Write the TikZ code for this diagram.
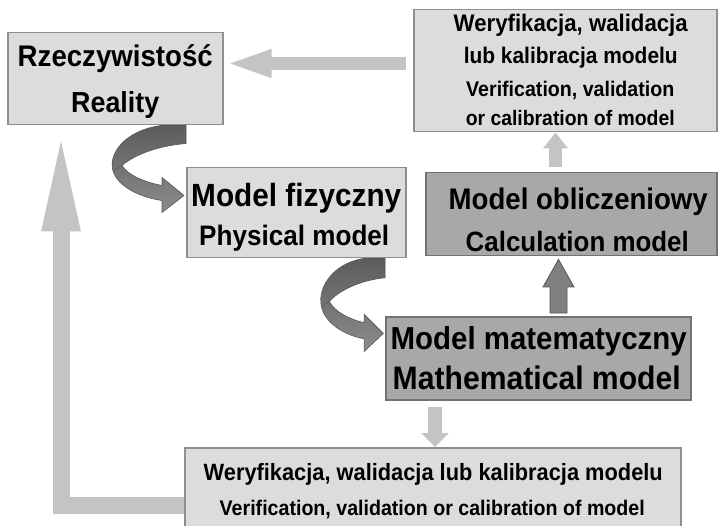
\documentclass[tikz,border=0pt]{standalone}
\usepackage{fontspec}
\usepackage{graphicx}
\setmainfont{Liberation Sans}
\usetikzlibrary{arrows.meta,calc}
\definecolor{boxlight}{HTML}{DCDCDC}
\definecolor{boxedge}{HTML}{8E8E8E}
\definecolor{boxdark}{HTML}{A8A8A8}
\definecolor{boxdarkedge}{HTML}{727272}
\definecolor{arrlight}{HTML}{C4C4C4}
\definecolor{arrdark}{HTML}{808080}
\definecolor{arrdarkedge}{HTML}{555555}
\definecolor{curvtop}{HTML}{5C5C5C}
\definecolor{curvbot}{HTML}{8C8C8C}
\newcommand{\fitw}[2]{\scalebox{1}[1.08]{\resizebox{#1pt}{!}{\bfseries #2}}}
\begin{document}
\begin{tikzpicture}[x=1pt,y=-1pt,
  boxsize/.style 2 args={minimum width=#1pt,minimum height=#2pt},
  lightbox/.style={draw=boxedge,fill=boxlight,line width=1.5pt,inner sep=0pt,anchor=north west},
  darkbox/.style={draw=boxdarkedge,fill=boxdark,line width=1.5pt,inner sep=0pt,anchor=north west},
  txt/.style={anchor=base,inner sep=0pt},
  lightarr/.style={draw=arrlight,line cap=butt,line join=miter},
  curvedfill/.style={top color=curvtop,bottom color=curvbot,draw=arrdarkedge,line width=0.6pt,line join=round},
  curvarr/.pic={
    \path[curvedfill] (-25,0) .. controls (-62,5) and (-80,30) .. (-72,48)
      .. controls (-66,62) and (-45,72) .. (-24,75) -- (-24,87) -- (-2,70) -- (-24,52) -- (-24,60)
      .. controls (-40,57) and (-58,50) .. (-64,40)
      .. controls (-50,28) and (-25,20) .. (0,18) -- (0,0) -- cycle;
    \draw[arrdarkedge,line width=0.5pt] (-64,40) .. controls (-68,42) and (-71,44) .. (-73,46);
  }]
\useasboundingbox (0,0) rectangle (722,526);

% boxes
\node[lightbox,boxsize={215}{92}] (reality) at (7,32) {};
\node[lightbox,boxsize={303}{122}] (verR) at (413,9) {};
\node[lightbox,boxsize={219}{90}] (phys) at (186,167) {};
\node[darkbox,boxsize={291}{83}] (calc) at (425,172) {};
\node[darkbox,boxsize={305}{83}] (math) at (385,316) {};
\node[lightbox,boxsize={496}{120}] (bottom) at (184,447) {};

% texts
\node[txt] (reality1) at ($(reality.north)+(0,35)$) {\fitw{195}{Rzeczywistość}};
\node[txt] (reality2) at ($(reality.north)+(0,81)$) {\fitw{88}{Reality}};
\node[txt] (verR1) at ($(verR.north)+(5.5,23)$) {\fitw{234}{Weryfikacja, walidacja}};
\node[txt] (verR2) at ($(verR.north)+(5.5,55)$) {\fitw{214}{lub kalibracja modelu}};
\node[txt] (verR3) at ($(verR.north)+(5,88)$) {\fitw{208}{Verification, validation}};
\node[txt] (verR4) at ($(verR.north)+(5,117)$) {\fitw{209}{or calibration of model}};
\node[txt] (phys1) at ($(phys.north)+(0,40)$) {\fitw{210}{Model fizyczny}};
\node[txt] (phys2) at ($(phys.north)+(-2,79)$) {\fitw{190}{Physical model}};
\node[txt] (calc1) at ($(calc.north)+(7,38)$) {\fitw{259}{Model obliczeniowy}};
\node[txt] (calc2) at ($(calc.north)+(6,80)$) {\fitw{223}{Calculation model}};
\node[txt] (math1) at ($(math.north)+(0.5,33)$) {\fitw{296}{Model matematyczny}};
\node[txt] (math2) at ($(math.north)+(-1.5,73)$) {\fitw{288}{Mathematical model}};
\node[txt] (bottom1) at ($(bottom.north)+(0.5,33)$) {\fitw{459}{Weryfikacja, walidacja lub kalibracja modelu}};
\node[txt] (bottom2) at ($(bottom.north)+(-0.5,68)$) {\fitw{425}{Verification, validation or calibration of model}};

% straight connectors
\draw[lightarr,line width=13pt,-{Triangle[length=46pt,width=25pt]}]
  ($(verR.north west)+(-7,54.5)$) coordinate (h1) -- ($(reality.east |- h1)+(2,0)$);
\draw[lightarr,line width=13pt,-{Triangle[length=16pt,width=24pt]}]
  ($(calc.north west)+(130.5,-5)$) coordinate (v1) -- (v1 |- verR.south);
\draw[lightarr,line width=14pt,-{Triangle[length=14pt,width=27pt]}]
  ($(math.south west)+(50,6)$) coordinate (v3) -- (v3 |- bottom.north);
\draw[lightarr,line width=17pt,-{Triangle[length=103pt,width=34pt]}]
  ($(bottom.north west)+(0,58)$) coordinate (l1) -| ($(reality.south west)+(54,3)$);
% dark block arrow from math to calc
\coordinate (v2) at ($(math.north west)+(173.5,-3)$);
\filldraw[fill=arrdark,draw=arrdarkedge,line width=0.8pt,line join=miter]
  ($(v2)+(-8.5,0)$) -- ($(v2)+(-8.5,-26)$) -- ($(v2)+(-15.5,-26)$)
  -- ($(v2 |- calc.south)+(0,3)$)
  -- ($(v2)+(15.5,-26)$) -- ($(v2)+(8.5,-26)$) -- ($(v2)+(8.5,0)$) -- cycle;

% curved connectors
\pic at (reality.south -| phys.west) {curvarr};
\pic[xscale=0.87,yscale=1.07] at (phys.south -| math.west) {curvarr};
\end{tikzpicture}
\end{document}
